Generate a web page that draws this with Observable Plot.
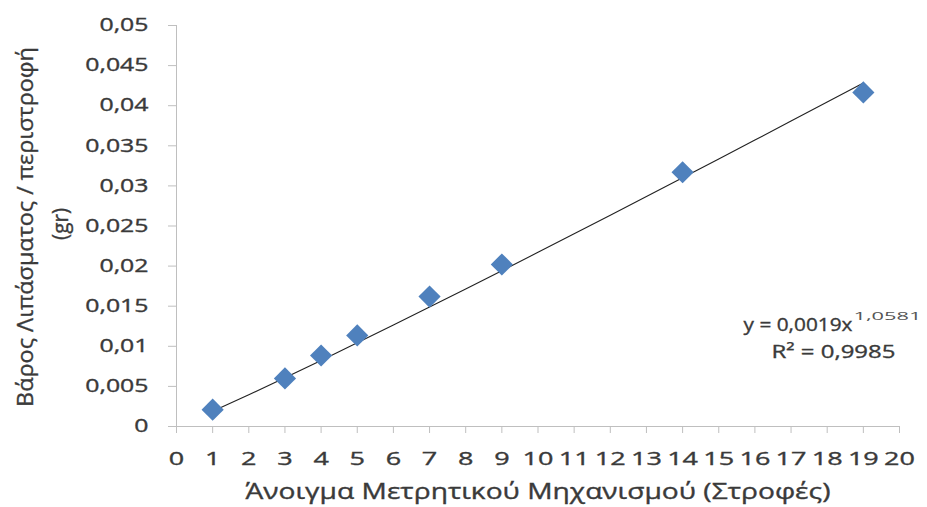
<!DOCTYPE html>
<html>
<head>
<meta charset="utf-8">
<script src="https://cdn.jsdelivr.net/npm/d3@7"></script>
<script src="https://cdn.jsdelivr.net/npm/@observablehq/plot@0.6"></script>
<style>
  html, body { margin: 0; padding: 0; background: #fff; }
  #chart { width: 927px; height: 507px; }
  #chart svg text { stroke: #3a3a3a; stroke-width: 0.35px; }
</style>
</head>
<body>
<div id="chart"></div>
<script>
// Turns of the metering mechanism and fertilizer weight per turn (gr)
const turns = [1, 3, 4, 5, 7, 9, 14, 19];
const weights = [0.0021, 0.0060, 0.00885, 0.01135, 0.0162, 0.0202, 0.0317, 0.04165];

// Power trendline y = a * x^b, as stated in the equation label
const trendA = 0.0019;
const trendB = 1.0581;
const trendR2 = "0,9985";
const trendTurns = [1, 2, 3, 4, 5, 6, 7, 8, 9, 10, 11, 12, 13, 14, 15, 16, 17, 18, 19];

const xTicks = [0, 1, 2, 3, 4, 5, 6, 7, 8, 9, 10, 11, 12, 13, 14, 15, 16, 17, 18, 19, 20];
const yTicks = [0, 0.005, 0.01, 0.015, 0.02, 0.025, 0.03, 0.035, 0.04, 0.045, 0.05];

const xTitle = "Άνοιγμα Μετρητικού Μηχανισμού (Στροφές)";
const yTitleLines = ["Βάρος Λιπάσματος / περιστροφή", "(gr)"];

const points = turns.map((t, i) => ({turns: t, weight: weights[i]}));
const trend = trendTurns.map(t => ({turns: t, weight: trendA * Math.pow(t, trendB)}));

const comma = d => String(d).replace(".", ",");
const eqMain = `y = ${comma(trendA)}x`;
const eqExp = comma(trendB);
const eqR2 = `R² = ${trendR2}`;

const font = "'Open Sans', sans-serif";
const ink = "#3a3a3a";
const axisGray = "#bfbfbf";

const chart = Plot.plot({
  width: 927,
  height: 507,
  marginLeft: 176,
  marginRight: 28,
  marginTop: 25,
  marginBottom: 81,
  style: {fontFamily: font, background: "#fff", color: ink},
  x: {domain: [0, 20]},
  y: {domain: [0, 0.05]},
  marks: [
    Plot.ruleY([0], {stroke: axisGray, strokeWidth: 1}),
    Plot.ruleX([0], {stroke: axisGray, strokeWidth: 1}),
    Plot.axisX({
      ticks: xTicks, tickSize: 7, tickPadding: 19, stroke: axisGray,
      fontSize: 18, fill: ink, label: null, tickFormat: d => String(d)
    }),
    Plot.axisY({
      ticks: yTicks, tickSize: 8, tickPadding: 20, stroke: axisGray,
      fontSize: 18, fill: ink, label: null, tickFormat: comma
    }),
    Plot.text([xTitle], {
      frameAnchor: "bottom", textAnchor: "middle", lineAnchor: "middle",
      dy: 66, fontSize: 21, fill: ink
    }),
    Plot.text([yTitleLines[0]], {
      frameAnchor: "left", textAnchor: "middle", lineAnchor: "middle",
      dx: -151, dy: 1, rotate: -90, fontSize: 22, fill: ink
    }),
    Plot.text([yTitleLines[1]], {
      frameAnchor: "left", textAnchor: "middle", lineAnchor: "middle",
      dx: -116, dy: -2, rotate: -90, fontSize: 22, fill: ink
    }),
    Plot.line(trend, {x: "turns", y: "weight", stroke: "#222", strokeWidth: 1.1}),
    Plot.dot(points, {
      x: "turns", y: "weight", symbol: "diamond2", r: 10, fill: "#4F81BD", stroke: "none"
    }),
    Plot.text([eqMain], {
      frameAnchor: "bottom-right", textAnchor: "end", lineAnchor: "middle",
      dx: -47, dy: -102, fontSize: 19, fill: ink
    }),
    Plot.text([eqExp], {
      frameAnchor: "bottom-right", textAnchor: "start", lineAnchor: "middle",
      dx: -46, dy: -110, fontSize: 11, fill: ink
    }),
    Plot.text([eqR2], {
      frameAnchor: "bottom-right", textAnchor: "middle", lineAnchor: "middle",
      dx: -66, dy: -75, fontSize: 19, fill: ink
    })
  ]
});

document.getElementById("chart").appendChild(chart);

// Horizontal widening of the lettering (wide, Calibri-like face)
const svg = d3.select(chart);
function addScale(el, factor) {
  el.setAttribute("transform", `${el.getAttribute("transform") || ""} scale(${factor},1)`);
}
function widen(label, factor) {
  svg.selectAll(`g[aria-label="${label}"] text`).each(function () { addScale(this, factor); });
}
function widenTo(content, width) {
  return svg.selectAll("text").filter(function () { return this.textContent === content; })
    .each(function () {
      const w = this.getComputedTextLength();
      if (w > 0) addScale(this, width / w);
    });
}
widen("x-axis tick label", 1.5);
widen("y-axis tick label", 1.38);
widenTo(xTitle, 585);
widenTo(yTitleLines[0], 360);
widenTo(yTitleLines[1], 32);
widenTo(eqMain, 109);
widenTo(eqExp, 68).style("stroke-width", "0px").style("fill", "#555");
widenTo(eqR2, 124);
</script>
</body>
</html>
